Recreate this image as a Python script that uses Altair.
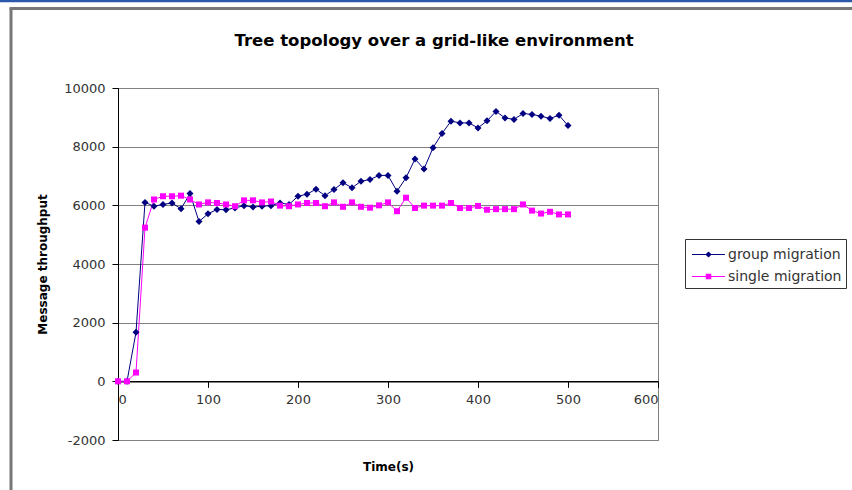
import altair as alt
import pandas as pd

# ---------------- data ----------------
series_names = ["group migration", "single migration"]
series_colors = ["#000080", "#FF00FF"]
series_shapes = ["diamond", "square"]

times = [0, 10, 20, 30, 40, 50, 60, 70, 80, 90,
         100, 110, 120, 130, 140, 150, 160, 170, 180, 190,
         200, 210, 220, 230, 240, 250, 260, 270, 280, 290,
         300, 310, 320, 330, 340, 350, 360, 370, 380, 390,
         400, 410, 420, 430, 440, 450, 460, 470, 480, 490, 500]

group_migration = [0, 0, 1670, 6100, 5970, 6030, 6080, 5880, 6400, 5450,
                   5710, 5860, 5850, 5910, 5990, 5940, 5970, 5990, 6080, 6030,
                   6310, 6380, 6550, 6330, 6540, 6770, 6600, 6820, 6880, 7020,
                   7020, 6480, 6940, 7580, 7240, 7960, 8450, 8870, 8810, 8810,
                   8640, 8880, 9200, 8980, 8930, 9130, 9100, 9040, 8960, 9070, 8720]

single_migration = [0, 0, 300, 5240, 6200, 6310, 6310, 6330, 6200, 6030,
                    6100, 6080, 6030, 5970, 6170, 6170, 6100, 6130, 5990, 5970,
                    6030, 6080, 6080, 5970, 6100, 5950, 6100, 5950, 5920, 6000,
                    6100, 5800, 6260, 5910, 5990, 5990, 5990, 6080, 5910, 5910,
                    5980, 5850, 5870, 5870, 5870, 6030, 5820, 5720, 5780, 5690, 5690]

x_ticks = [0, 100, 200, 300, 400, 500, 600]
y_ticks = [-2000, 0, 2000, 4000, 6000, 8000, 10000]

title_text = "Tree topology over a grid-like environment"
x_title = "Time(s)"
y_title = "Message throughput"

df = pd.DataFrame({
    "time": times + times,
    "value": group_migration + single_migration,
    "series": [series_names[0]] * len(times) + [series_names[1]] * len(times),
})

# ---------------- layout ----------------
W, H = 540, 352
PAD_L, PAD_T, PAD_R, PAD_B = 118, 88, 194, 50
Y_MIN, Y_MAX = y_ticks[0], y_ticks[-1]
zero_offset = -H * (0 - Y_MIN) / (Y_MAX - Y_MIN)

FONT = "DejaVu Sans"

# legend symbols: a short line with the series marker on it
legend_paths = [
    "M-1.43,-0.045H1.43V0.045H-1.43ZM-0.27,0L0,-0.27L0.27,0L0,0.27Z",
    "M-1.43,-0.045H1.43V0.045H-1.43ZM-0.24,-0.24H0.24V0.24H-0.24Z",
]
symbol_expr = (
    "datum.value === '" + series_names[0] + "' ? '" + legend_paths[0] + "' : '" + legend_paths[1] + "'"
)

legend = alt.Legend(
    title=None,
    orient="none",
    legendX=567,
    legendY=151,
    direction="vertical",
    fillColor="white",
    strokeColor="#333333",
    padding=4,
    rowPadding=3,
    symbolSize=529,
    symbolType=alt.ExprRef(expr=symbol_expr),
    symbolOffset=8,
    symbolStrokeWidth=0,
    labelOffset=8,
    labelFont=FONT,
    labelFontSize=14,
    labelColor="#333333",
)

color_scale = alt.Scale(domain=series_names, range=series_colors)

x_enc = alt.X(
    "time:Q",
    scale=alt.Scale(domain=[x_ticks[0], x_ticks[-1]], nice=False, zero=False),
    axis=alt.Axis(
        values=x_ticks,
        labelExpr="'' + datum.value",
        title=x_title,
        grid=False,
        offset=zero_offset,
        domainColor="#000000",
        domainWidth=1.5,
        tickColor="#000000",
        tickSize=6,
        labelPadding=6,
        labelFont=FONT,
        labelFontSize=13,
        labelColor="#333333",
        titleFont=FONT,
        titleFontSize=12,
        titleFontWeight="bold",
        titleColor="#000000",
        titlePadding=55,
    ),
)

y_enc = alt.Y(
    "value:Q",
    scale=alt.Scale(domain=[Y_MIN, Y_MAX], nice=False, zero=False),
    axis=alt.Axis(
        values=y_ticks,
        labelExpr="'' + datum.value",
        title=y_title,
        grid=True,
        gridColor="#808080",
        gridWidth=1,
        domainColor="#000000",
        domainWidth=1,
        tickColor="#000000",
        tickSize=6,
        labelPadding=7,
        labelFont=FONT,
        labelFontSize=13,
        labelColor="#333333",
        titleFont=FONT,
        titleFontSize=12,
        titleFontWeight="bold",
        titleColor="#000000",
        titleX=-69,
        titleY=H / 2,
    ),
)

base = alt.Chart(df)

# layer that draws nothing in the plot, only carries the legend
legend_layer = base.transform_filter("false").mark_point(filled=True, opacity=1, size=529).encode(
    x=x_enc,
    y=y_enc,
    color=alt.Color("series:N", scale=color_scale, legend=legend),
)

lines = base.mark_line(strokeWidth=1).encode(
    x=x_enc,
    y=y_enc,
    color=alt.Color("series:N", scale=color_scale),
    detail="series:N",
)

points = base.mark_point(filled=True, opacity=1).encode(
    x=x_enc,
    y=y_enc,
    color=alt.Color("series:N", scale=color_scale),
    shape=alt.Shape("series:N", scale=alt.Scale(domain=series_names, range=series_shapes), legend=None),
    size=alt.Size("series:N", scale=alt.Scale(domain=series_names, range=[49, 36]), legend=None),
)

# decorative frame of the original figure (outside the plot area)
one = pd.DataFrame({"k": [0]})
frame_left = alt.Chart(one).mark_rule(color="#777777", strokeWidth=3).encode(
    x=alt.value(11 - PAD_L), y=alt.value(8.5 - PAD_T), y2=alt.value(490 - PAD_T)
)
frame_top = alt.Chart(one).mark_rule(color="#777777", strokeWidth=3).encode(
    x=alt.value(9.5 - PAD_L), x2=alt.value(852 - PAD_L), y=alt.value(8.5 - PAD_T)
)
blue_strip = alt.Chart(one).mark_rule(color="#2b58a8", strokeWidth=2.5).encode(
    x=alt.value(0 - PAD_L), x2=alt.value(852 - PAD_L), y=alt.value(1 - PAD_T)
)

chart = alt.layer(frame_left, frame_top, blue_strip, legend_layer, lines, points).resolve_scale(
    shape="independent", size="independent"
).properties(
    width=W,
    height=H,
    padding={"left": PAD_L, "top": PAD_T, "right": PAD_R, "bottom": PAD_B},
    autosize=alt.AutoSizeParams(type="none"),
    background="white",
    title=alt.TitleParams(
        text=title_text,
        font=FONT,
        fontSize=16.5,
        fontWeight="bold",
        color="#000000",
        anchor="middle",
        frame="group",
        offset=0,
        dx=46,
        dy=50,
    ),
).configure_view(stroke="#808080", strokeWidth=1)

chart.save("out.html", embed_options={"renderer": "svg", "actions": False})
